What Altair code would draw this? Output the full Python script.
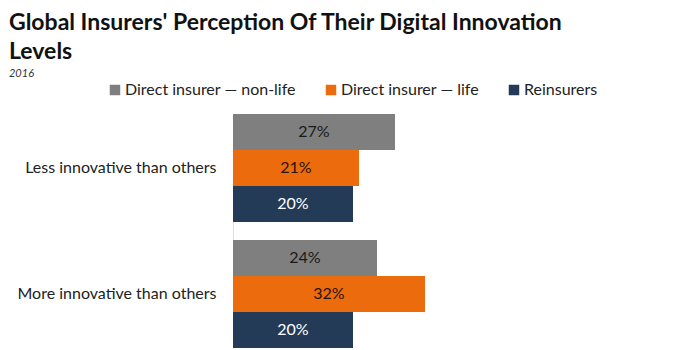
import altair as alt
import pandas as pd

categories = ["Less innovative than others", "More innovative than others"]
series = ["Direct insurer — non-life", "Direct insurer — life", "Reinsurers"]
nonlife = [27, 24]
life = [21, 32]
reins = [20, 20]
colors = ["#7f7f7f", "#ec6b0c", "#243b57"]
text_colors = ["#1a1a1a", "#2a1208", "#ffffff"]

rows = []
for i, c in enumerate(categories):
    for s, vals in zip(series, [nonlife, life, reins]):
        rows.append({"category": c, "series": s, "value": vals[i]})
df = pd.DataFrame(rows)

FONT = "Lato"

y_enc = alt.Y(
    "category:N", sort=categories,
    scale=alt.Scale(paddingInner=0.143, paddingOuter=0),
    axis=alt.Axis(title=None, ticks=False, labelFontSize=16, labelFont=FONT,
                  labelColor="#222", labelPadding=17, domainColor="#dcdcdc",
                  labelLimit=300),
)
yoff = alt.YOffset("series:N", sort=series, scale=alt.Scale(paddingInner=0, paddingOuter=0))
x_scale = alt.Scale(domain=[0, 70], nice=False)

bars = alt.Chart(df).mark_bar().encode(
    y=y_enc,
    yOffset=yoff,
    x=alt.X("value:Q", scale=x_scale, axis=None),
    color=alt.Color(
        "series:N", sort=series,
        scale=alt.Scale(domain=series, range=colors),
        legend=alt.Legend(
            title=None, orient="none", legendX=-126, legendY=-32,
            direction="horizontal", symbolType="square", symbolSize=110,
            labelFontSize=16, labelFont=FONT, labelColor="#222",
            labelOffset=2, labelLimit=400,
            columnPadding=27, symbolStrokeWidth=0,
        ),
    ),
)

labels = alt.Chart(df).transform_calculate(
    mid="datum.value / 2",
    label="datum.value + '%'",
).mark_text(fontSize=16, font=FONT).encode(
    y=y_enc,
    yOffset=yoff,
    x=alt.X("mid:Q", scale=x_scale, axis=None),
    text="label:N",
    color=alt.Color("series:N", scale=alt.Scale(domain=series, range=text_colors), legend=None),
)

chart = alt.layer(bars, labels).resolve_scale(color="independent").properties(
    width=420,
    height=234,
    autosize=alt.AutoSizeParams(type="none"),
    padding={"left": 233, "top": 114, "right": 47, "bottom": 2},
    title=alt.TitleParams(
        text=["Global Insurers' Perception Of Their Digital Innovation", "Levels"],
        subtitle="2016",
        anchor="start",
        fontSize=23, font=FONT, fontWeight="bold", color="#111",
        lineHeight=29,
        subtitleFont=FONT, subtitleFontStyle="italic", subtitleFontSize=11,
        subtitleColor="#333", subtitlePadding=4,
        dx=-8, offset=3,
    ),
).configure_view(stroke=None)

chart.save("out.html", embed_options={"renderer": "svg", "actions": False})
